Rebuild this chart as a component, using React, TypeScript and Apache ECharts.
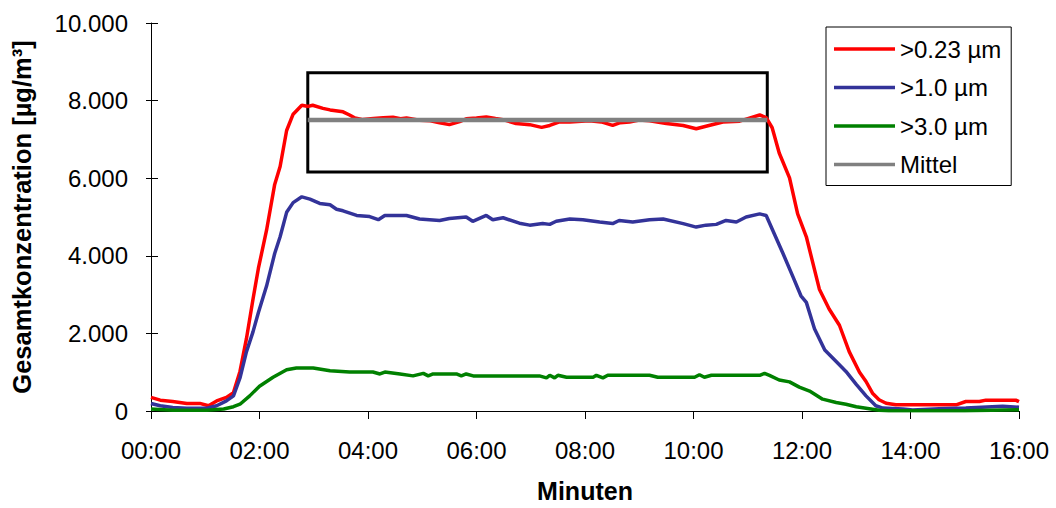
import React, { useEffect, useRef } from "react";
import * as echarts from "echarts";

// time in minutes, concentration in µg/m³
const redTime = [0, 0.17, 0.4, 0.66, 0.9, 1.06, 1.21, 1.39, 1.52, 1.64, 1.76, 1.88, 1.98, 2.13, 2.28, 2.38, 2.5, 2.62, 2.78, 2.9, 2.98, 3.17, 3.3, 3.54, 3.66, 3.76, 3.91, 4.1, 4.28, 4.46, 4.6, 4.71, 4.95, 5.15, 5.32, 5.5, 5.69, 5.81, 6.0, 6.18, 6.35, 6.49, 6.73, 6.98, 7.2, 7.35, 7.53, 7.72, 8.08, 8.3, 8.51, 8.65, 8.82, 9.0, 9.19, 9.5, 9.81, 10.05, 10.23, 10.54, 10.85, 11.03, 11.22, 11.34, 11.45, 11.58, 11.77, 11.92, 12.08, 12.32, 12.5, 12.69, 12.87, 13.06, 13.18, 13.3, 13.42, 13.55, 13.73, 14.3, 14.84, 15.02, 15.27, 15.39, 15.94, 16.0];
const redValues = [350, 280, 245, 195, 195, 135, 260, 350, 475, 1020, 1870, 2880, 3680, 4660, 5840, 6300, 7230, 7650, 7880, 7850, 7880, 7800, 7760, 7710, 7630, 7550, 7510, 7540, 7560, 7570, 7530, 7550, 7495, 7480, 7430, 7380, 7460, 7530, 7550, 7580, 7540, 7510, 7410, 7380, 7310, 7360, 7450, 7450, 7480, 7450, 7360, 7430, 7450, 7500, 7480, 7410, 7360, 7275, 7340, 7450, 7470, 7550, 7630, 7560, 7300, 6650, 6010, 5080, 4490, 3140, 2630, 2210, 1530, 1000, 760, 460, 290, 200, 160, 160, 160, 245, 245, 280, 280, 240];

const blueTime = [0, 0.17, 0.4, 0.66, 1.03, 1.21, 1.39, 1.52, 1.64, 1.76, 1.88, 1.98, 2.13, 2.28, 2.38, 2.5, 2.62, 2.78, 2.93, 3.11, 3.3, 3.42, 3.54, 3.79, 4.03, 4.19, 4.31, 4.52, 4.71, 4.95, 5.32, 5.5, 5.81, 5.93, 6.18, 6.3, 6.49, 6.79, 6.98, 7.22, 7.35, 7.47, 7.72, 7.96, 8.27, 8.51, 8.63, 8.88, 9.19, 9.44, 9.81, 10.05, 10.23, 10.42, 10.6, 10.79, 10.97, 11.22, 11.34, 11.46, 11.65, 11.83, 11.98, 12.08, 12.23, 12.42, 12.63, 12.81, 13.0, 13.18, 13.36, 13.49, 13.86, 14.04, 14.53, 15.02, 15.7, 16.0];
const blueValues = [195, 135, 90, 70, 70, 135, 260, 390, 850, 1530, 2040, 2540, 3220, 4060, 4490, 5120, 5370, 5520, 5460, 5350, 5315, 5200, 5160, 5040, 5010, 4930, 5040, 5040, 5040, 4950, 4910, 4960, 5000, 4890, 5040, 4930, 4980, 4840, 4790, 4830, 4810, 4890, 4950, 4930, 4870, 4830, 4910, 4870, 4930, 4950, 4830, 4740, 4790, 4810, 4910, 4870, 5000, 5080, 5040, 4660, 4060, 3470, 2970, 2800, 2120, 1570, 1275, 1020, 685, 390, 135, 75, 50, 25, 55, 75, 125, 95];

const greenTime = [0, 0.4, 1.03, 1.34, 1.52, 1.64, 1.82, 2.0, 2.25, 2.5, 2.68, 2.99, 3.3, 3.66, 4.09, 4.22, 4.31, 4.59, 4.83, 5.02, 5.11, 5.2, 5.63, 5.72, 5.81, 5.94, 7.16, 7.29, 7.35, 7.44, 7.5, 7.66, 8.15, 8.21, 8.33, 8.42, 9.19, 9.34, 10.02, 10.11, 10.2, 10.33, 11.22, 11.31, 11.4, 11.58, 11.77, 11.95, 12.14, 12.38, 12.63, 12.81, 13.0, 13.24, 13.42, 13.6, 15.0, 15.5, 16.0];
const greenValues = [50, 20, 20, 50, 110, 175, 390, 640, 870, 1065, 1110, 1110, 1040, 1005, 1005, 955, 1005, 955, 905, 970, 905, 955, 955, 905, 955, 905, 905, 855, 920, 855, 920, 870, 870, 920, 855, 920, 920, 870, 870, 935, 870, 920, 920, 970, 920, 800, 750, 615, 515, 305, 220, 175, 110, 60, 20, 5, 5, 20, 30];

const meanTime = [2.89, 11.36];
const meanValues = [7500, 7500];

// highlighted window (minutes / µg/m³)
const boxTime = [2.89, 11.36];
const boxValues = [8720, 6160];

const seriesNames = [">0.23 µm", ">1.0 µm", ">3.0 µm", "Mittel"];
const xTicks = [0, 2, 4, 6, 8, 10, 12, 14, 16];

const pair = (t: number[], v: number[]) => t.map((x, i) => [x, v[i]]);
const FONT = "'Liberation Sans', Arial, sans-serif";

export default function App() {
  const ref = useRef<HTMLDivElement>(null);
  useEffect(() => {
    const chart = echarts.init(ref.current!, null, { renderer: "svg" });
    const yFmt = (v: number) => (v === 0 ? "0" : (v / 1000).toFixed(3));
    chart.setOption({
      animation: false,
      backgroundColor: "#fff",
      grid: { left: 151, right: 37, top: 23, bottom: 91, containLabel: false },
      legend: {
        orient: "vertical",
        left: 826,
        top: 27,
        data: seriesNames.map((n) => ({ name: n, icon: "rect" })),
        itemWidth: 61,
        itemHeight: 3.5,
        itemGap: 14.5,
        padding: [10, 10, 9, 8],
        borderColor: "#000",
        borderWidth: 1,
        textStyle: { fontFamily: FONT, fontSize: 24, color: "#000", lineHeight: 24 },
      },
      xAxis: {
        type: "value",
        min: xTicks[0],
        max: xTicks[xTicks.length - 1],
        interval: 2,
        name: "Minuten",
        nameLocation: "middle",
        nameGap: 67,
        nameTextStyle: { fontFamily: FONT, fontSize: 25, fontWeight: "bold", color: "#000" },
        axisLine: { lineStyle: { color: "#000", width: 1 } },
        axisTick: { show: true, inside: false, length: 8, lineStyle: { color: "#000" } },
        axisLabel: {
          fontFamily: FONT,
          fontSize: 24,
          color: "#000",
          margin: 27,
          formatter: (v: number) => String(v).padStart(2, "0") + ":00",
        },
        splitLine: { show: false },
      },
      yAxis: [
        {
          type: "value",
          min: 0,
          max: 10000,
          interval: 2000,
          name: "Gesamtkonzentration [µg/m³]",
          nameLocation: "middle",
          nameGap: 116,
          nameTextStyle: { fontFamily: FONT, fontSize: 25.5, fontWeight: "bold", color: "#000" },
          axisLine: { show: true, lineStyle: { color: "#000", width: 1 } },
          axisTick: { show: true, inside: true, length: 7, lineStyle: { color: "#000" } },
          axisLabel: { fontFamily: FONT, fontSize: 24, color: "#000", margin: 23, formatter: yFmt },
          splitLine: { show: false },
        },
        {
          type: "value",
          position: "left",
          min: 0,
          max: 10000,
          interval: 2000,
          axisLine: { show: false },
          axisTick: { show: true, inside: false, length: 5, lineStyle: { color: "#000" } },
          axisLabel: { show: false },
          splitLine: { show: false },
        },
      ],
      series: [
        {
          name: seriesNames[0],
          type: "line",
          symbol: "none",
          data: pair(redTime, redValues),
          lineStyle: { color: "#ff0000", width: 3.5 },
          itemStyle: { color: "#ff0000" },
        },
        {
          name: seriesNames[1],
          type: "line",
          symbol: "none",
          data: pair(blueTime, blueValues),
          lineStyle: { color: "#333399", width: 3.5 },
          itemStyle: { color: "#333399" },
        },
        {
          name: seriesNames[2],
          type: "line",
          symbol: "none",
          data: pair(greenTime, greenValues),
          lineStyle: { color: "#008000", width: 3.5 },
          itemStyle: { color: "#008000" },
        },
        {
          name: seriesNames[3],
          type: "line",
          symbol: "none",
          data: pair(meanTime, meanValues),
          lineStyle: { color: "#808080", width: 4.5 },
          itemStyle: { color: "#808080" },
          markArea: {
            silent: true,
            itemStyle: { color: "rgba(0,0,0,0)", borderColor: "#000", borderWidth: 3 },
            data: [[{ coord: [boxTime[0], boxValues[0]] }, { coord: [boxTime[1], boxValues[1]] }]],
          },
        },
      ],
    });
    return () => chart.dispose();
  }, []);
  return (
    <div
      ref={ref}
      style={{ position: "fixed", left: 0, top: 0, width: 1056, height: 508, background: "#fff" }}
    />
  );
}
